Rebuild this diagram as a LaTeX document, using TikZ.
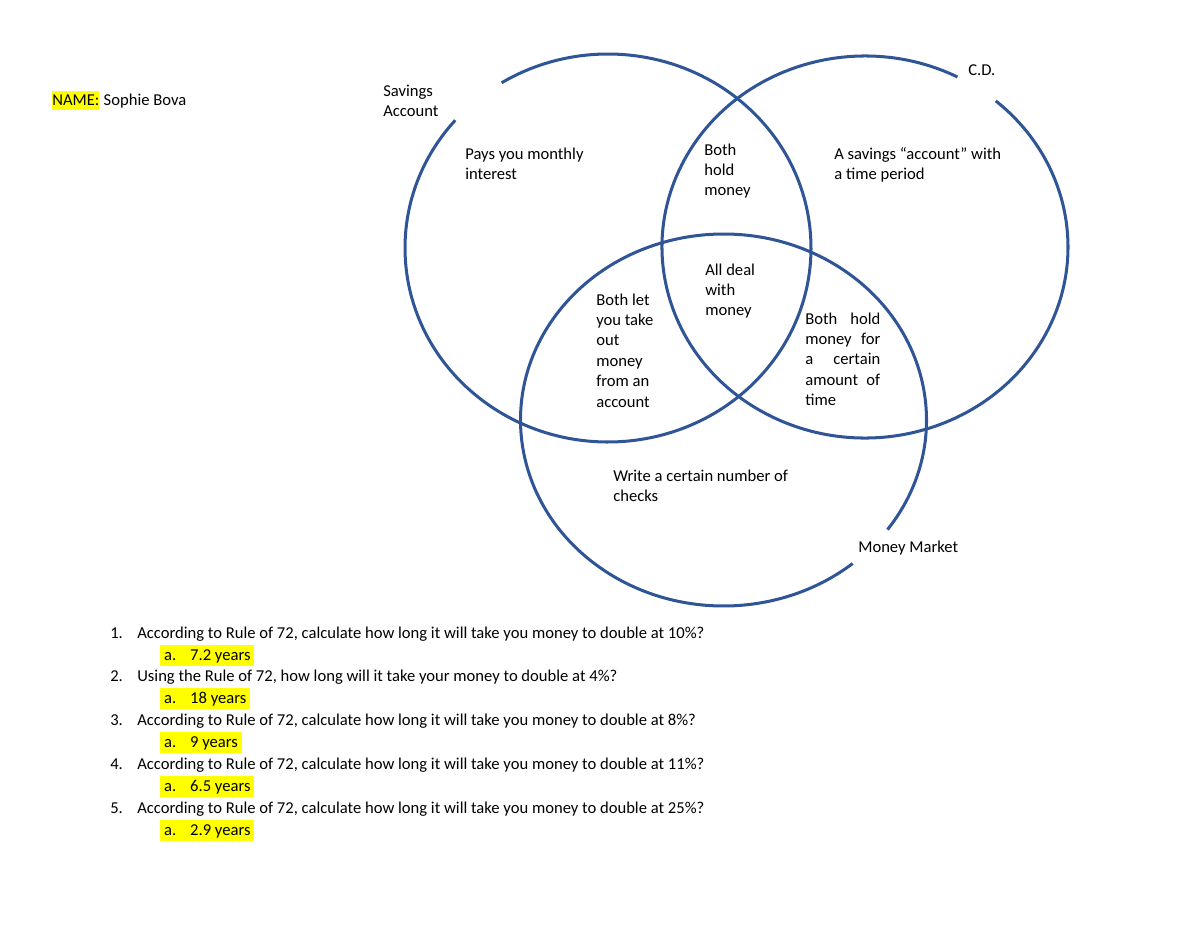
\documentclass[tikz,border=0pt]{standalone}
\usepackage{fontspec}
\setmainfont{Carlito}
\usepackage{xcolor}
\usepackage{tikz}

\definecolor{vennblue}{HTML}{2F5597}
\definecolor{marker}{HTML}{FFFF00}

\tikzset{
  ring/.style={draw=vennblue, line width=2pt},
  txt/.style={anchor=base west, inner sep=0pt, align=left,
    font=\fontsize{11}{13.5}\selectfont},
  answer/.style={txt, fill=marker, inner xsep=2.6pt,
    text height=10pt, text depth=4pt},
}

\begin{document}
\begin{tikzpicture}[x=0.6625pt, y=0.6625pt]
\useasboundingbox (0,0) rectangle (1200,-927);

%%    CIRCLES    %%
\coordinate (savings) at (608,-248);
\coordinate (cd) at (865,-247);
\coordinate (market) at (723.5,-420);
\draw [ring] (savings) ++(138.8:203 and 194)
  arc [start angle=138.8, end angle=481.6, x radius=203, y radius=194];
\draw [ring] (cd) ++(62.9:203 and 191)
  arc [start angle=62.9, end angle=409.9, x radius=203, y radius=191];
\draw [ring] (market) ++(-36.1:203 and 186)
  arc [start angle=-36.1, end angle=309.5, x radius=203, y radius=186];

%%    NAME    %%
\node [txt, fill=marker, text height=9pt, text depth=3pt] (name) at (52,-105) {NAME:};
\node [txt] (who) at (name.base east) {\ Sophie Bova};

%%    LABELS    %%
% multi-line nodes sit on the baseline of their last line
\node [txt] (savlabel) at (383,-116.4) {Savings\\Account};
\node [txt] (cdlabel) at (968,-75) {C.D.};
\node [txt] (mmlabel) at (858,-552) {Money Market};

%%    REGIONS    %%
\node [txt] (onlysav) at (465,-179.4) {Pays you monthly\\interest};
\node [txt] (savcd) at (704,-195.8) {Both\\hold\\money};
\node [txt] (onlycd) at (834,-179.4) {A savings “account” with\\a time period};
\node [txt] (all) at (705,-315.8) {All deal\\with\\money};
\node [txt] (savmm) at (596,-407) {Both let\\you take\\out\\money\\from an\\account};
\node [txt] (cdmm) at (805,-405.6) {\makebox[49.7pt][s]{Both hold}\\\makebox[49.7pt][s]{money for}\\\makebox[49.7pt][s]{a certain}\\\makebox[49.7pt][s]{amount of}\\time};
\node [txt] (onlymm) at (613,-501.4) {Write a certain number of\\checks};

%%    QUESTIONS    %%
\node [txt] (n1) at (110,-638) {1.};
\node [txt] (q1) at (137,-638) {According to Rule of 72, calculate how long it will take you money to double at 10\%?};
\node [answer] (a1) at (160,-660) {\makebox[17.2pt][l]{a.}7.2 years};
\node [txt] (n2) at (110,-681) {2.};
\node [txt] (q2) at (137,-681) {Using the Rule of 72, how long will it take your money to double at 4\%?};
\node [answer] (a2) at (160,-703) {\makebox[17.2pt][l]{a.}18 years};
\node [txt] (n3) at (110,-725) {3.};
\node [txt] (q3) at (137,-725) {According to Rule of 72, calculate how long it will take you money to double at 8\%?};
\node [answer] (a3) at (160,-747) {\makebox[17.2pt][l]{a.}9 years};
\node [txt] (n4) at (110,-769) {4.};
\node [txt] (q4) at (137,-769) {According to Rule of 72, calculate how long it will take you money to double at 11\%?};
\node [answer] (a4) at (160,-791) {\makebox[17.2pt][l]{a.}6.5 years};
\node [txt] (n5) at (110,-813) {5.};
\node [txt] (q5) at (137,-813) {According to Rule of 72, calculate how long it will take you money to double at 25\%?};
\node [answer] (a5) at (160,-835) {\makebox[17.2pt][l]{a.}2.9 years};

\end{tikzpicture}
\end{document}
